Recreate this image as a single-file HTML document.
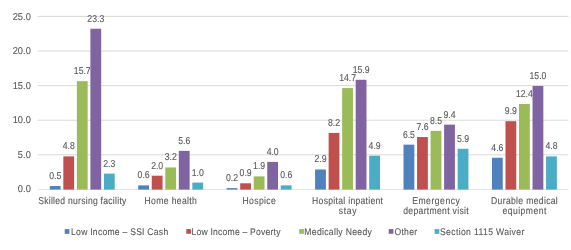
<!DOCTYPE html><html><head><meta charset="utf-8"><style>html,body{margin:0;padding:0;background:#fff;width:571px;height:250px;overflow:hidden}svg{display:block;will-change:transform}text{font-family:"Liberation Sans",sans-serif;text-rendering:geometricPrecision;fill:#595959;stroke:#595959;stroke-width:1.2px}</style></head><body>
<svg width="571" height="250" viewBox="0 0 571 250">
<rect x="37.68" y="188.90" width="530.82" height="1" fill="#E4E4E4"/>
<text transform="translate(30.80,192.20) scale(0.09300,0.10000)" font-size="100" text-anchor="end">0.0</text>
<rect x="37.68" y="154.30" width="530.82" height="1" fill="#D9D9D9"/>
<text transform="translate(30.80,158.00) scale(0.09300,0.10000)" font-size="100" text-anchor="end">5.0</text>
<rect x="37.68" y="119.70" width="530.82" height="1" fill="#D9D9D9"/>
<text transform="translate(30.80,123.10) scale(0.09300,0.10000)" font-size="100" text-anchor="end">10.0</text>
<rect x="37.68" y="85.10" width="530.82" height="1" fill="#D9D9D9"/>
<text transform="translate(30.80,88.80) scale(0.09300,0.10000)" font-size="100" text-anchor="end">15.0</text>
<rect x="37.68" y="50.50" width="530.82" height="1" fill="#D9D9D9"/>
<text transform="translate(30.80,54.20) scale(0.09300,0.10000)" font-size="100" text-anchor="end">20.0</text>
<rect x="37.68" y="15.90" width="530.82" height="1" fill="#D9D9D9"/>
<text transform="translate(30.80,19.60) scale(0.09300,0.10000)" font-size="100" text-anchor="end">25.0</text>
<rect x="49.80" y="186.05" width="10.80" height="3.55" fill="#4F81BD"/>
<text transform="translate(55.20,179.05) scale(0.08649,0.10000)" font-size="100" text-anchor="middle">0.5</text>
<rect x="63.33" y="156.38" width="10.80" height="33.22" fill="#C0504D"/>
<text transform="translate(68.73,149.38) scale(0.08649,0.10000)" font-size="100" text-anchor="middle">4.8</text>
<rect x="76.86" y="81.17" width="10.80" height="108.43" fill="#9BBB59"/>
<text transform="translate(82.26,74.17) scale(0.08649,0.10000)" font-size="100" text-anchor="middle">15.7</text>
<rect x="90.39" y="28.73" width="10.80" height="160.87" fill="#8064A2"/>
<text transform="translate(95.79,21.73) scale(0.08649,0.10000)" font-size="100" text-anchor="middle">23.3</text>
<rect x="103.92" y="173.63" width="10.80" height="15.97" fill="#4BACC6"/>
<text transform="translate(109.32,166.63) scale(0.08649,0.10000)" font-size="100" text-anchor="middle">2.3</text>
<rect x="138.23" y="185.36" width="10.80" height="4.24" fill="#4F81BD"/>
<text transform="translate(143.63,178.36) scale(0.08649,0.10000)" font-size="100" text-anchor="middle">0.6</text>
<rect x="151.76" y="175.70" width="10.80" height="13.90" fill="#C0504D"/>
<text transform="translate(157.16,168.70) scale(0.08649,0.10000)" font-size="100" text-anchor="middle">2.0</text>
<rect x="165.29" y="167.42" width="10.80" height="22.18" fill="#9BBB59"/>
<text transform="translate(170.69,160.42) scale(0.08649,0.10000)" font-size="100" text-anchor="middle">3.2</text>
<rect x="178.82" y="150.86" width="10.80" height="38.74" fill="#8064A2"/>
<text transform="translate(184.22,143.86) scale(0.08649,0.10000)" font-size="100" text-anchor="middle">5.6</text>
<rect x="192.35" y="182.60" width="10.80" height="7.00" fill="#4BACC6"/>
<text transform="translate(197.75,175.60) scale(0.08649,0.10000)" font-size="100" text-anchor="middle">1.0</text>
<rect x="226.66" y="188.12" width="10.80" height="1.48" fill="#4F81BD"/>
<text transform="translate(232.06,181.12) scale(0.08649,0.10000)" font-size="100" text-anchor="middle">0.2</text>
<rect x="240.19" y="183.29" width="10.80" height="6.31" fill="#C0504D"/>
<text transform="translate(245.59,176.29) scale(0.08649,0.10000)" font-size="100" text-anchor="middle">0.9</text>
<rect x="253.72" y="176.39" width="10.80" height="13.21" fill="#9BBB59"/>
<text transform="translate(259.12,169.39) scale(0.08649,0.10000)" font-size="100" text-anchor="middle">1.9</text>
<rect x="267.25" y="161.90" width="10.80" height="27.70" fill="#8064A2"/>
<text transform="translate(272.65,154.90) scale(0.08649,0.10000)" font-size="100" text-anchor="middle">4.0</text>
<rect x="280.78" y="185.36" width="10.80" height="4.24" fill="#4BACC6"/>
<text transform="translate(286.18,178.36) scale(0.08649,0.10000)" font-size="100" text-anchor="middle">0.6</text>
<rect x="315.09" y="169.49" width="10.80" height="20.11" fill="#4F81BD"/>
<text transform="translate(320.49,162.49) scale(0.08649,0.10000)" font-size="100" text-anchor="middle">2.9</text>
<rect x="328.62" y="132.92" width="10.80" height="56.68" fill="#C0504D"/>
<text transform="translate(334.02,125.92) scale(0.08649,0.10000)" font-size="100" text-anchor="middle">8.2</text>
<rect x="342.15" y="88.07" width="10.80" height="101.53" fill="#9BBB59"/>
<text transform="translate(347.55,81.07) scale(0.08649,0.10000)" font-size="100" text-anchor="middle">14.7</text>
<rect x="355.68" y="79.79" width="10.80" height="109.81" fill="#8064A2"/>
<text transform="translate(361.08,72.79) scale(0.08649,0.10000)" font-size="100" text-anchor="middle">15.9</text>
<rect x="369.21" y="155.69" width="10.80" height="33.91" fill="#4BACC6"/>
<text transform="translate(374.61,148.69) scale(0.08649,0.10000)" font-size="100" text-anchor="middle">4.9</text>
<rect x="403.52" y="144.65" width="10.80" height="44.95" fill="#4F81BD"/>
<text transform="translate(408.92,137.65) scale(0.08649,0.10000)" font-size="100" text-anchor="middle">6.5</text>
<rect x="417.05" y="137.06" width="10.80" height="52.54" fill="#C0504D"/>
<text transform="translate(422.45,130.06) scale(0.08649,0.10000)" font-size="100" text-anchor="middle">7.6</text>
<rect x="430.58" y="130.85" width="10.80" height="58.75" fill="#9BBB59"/>
<text transform="translate(435.98,123.85) scale(0.08649,0.10000)" font-size="100" text-anchor="middle">8.5</text>
<rect x="444.11" y="124.64" width="10.80" height="64.96" fill="#8064A2"/>
<text transform="translate(449.51,117.64) scale(0.08649,0.10000)" font-size="100" text-anchor="middle">9.4</text>
<rect x="457.64" y="148.79" width="10.80" height="40.81" fill="#4BACC6"/>
<text transform="translate(463.04,141.79) scale(0.08649,0.10000)" font-size="100" text-anchor="middle">5.9</text>
<rect x="491.95" y="157.76" width="10.80" height="31.84" fill="#4F81BD"/>
<text transform="translate(497.35,150.76) scale(0.08649,0.10000)" font-size="100" text-anchor="middle">4.6</text>
<rect x="505.48" y="121.19" width="10.80" height="68.41" fill="#C0504D"/>
<text transform="translate(510.88,114.19) scale(0.08649,0.10000)" font-size="100" text-anchor="middle">9.9</text>
<rect x="519.01" y="103.94" width="10.80" height="85.66" fill="#9BBB59"/>
<text transform="translate(524.41,96.94) scale(0.08649,0.10000)" font-size="100" text-anchor="middle">12.4</text>
<rect x="532.54" y="86.00" width="10.80" height="103.60" fill="#8064A2"/>
<text transform="translate(537.94,79.00) scale(0.08649,0.10000)" font-size="100" text-anchor="middle">15.0</text>
<rect x="546.07" y="156.38" width="10.80" height="33.22" fill="#4BACC6"/>
<text transform="translate(551.47,149.38) scale(0.08649,0.10000)" font-size="100" text-anchor="middle">4.8</text>
<text transform="translate(82.26,203.70) scale(0.08556,0.10000)" font-size="100" text-anchor="middle" textLength="1029.69" lengthAdjust="spacing">Skilled nursing facility</text>
<text transform="translate(170.69,203.70) scale(0.08556,0.10000)" font-size="100" text-anchor="middle" textLength="611.27" lengthAdjust="spacing">Home health</text>
<text transform="translate(259.12,203.70) scale(0.08556,0.10000)" font-size="100" text-anchor="middle" textLength="388.03" lengthAdjust="spacing">Hospice</text>
<text transform="translate(347.55,203.70) scale(0.08556,0.10000)" font-size="100" text-anchor="middle" textLength="828.66" lengthAdjust="spacing">Hospital inpatient</text>
<text transform="translate(347.55,214.30) scale(0.08556,0.10000)" font-size="100" text-anchor="middle" textLength="208.04" lengthAdjust="spacing">stay</text>
<text transform="translate(435.98,203.70) scale(0.08556,0.10000)" font-size="100" text-anchor="middle" textLength="556.33" lengthAdjust="spacing">Emergency</text>
<text transform="translate(435.98,214.30) scale(0.08556,0.10000)" font-size="100" text-anchor="middle" textLength="764.38" lengthAdjust="spacing">department visit</text>
<text transform="translate(524.41,203.70) scale(0.08556,0.10000)" font-size="100" text-anchor="middle" textLength="779.57" lengthAdjust="spacing">Durable medical</text>
<text transform="translate(524.41,214.30) scale(0.08556,0.10000)" font-size="100" text-anchor="middle" textLength="511.92" lengthAdjust="spacing">equipment</text>
<rect x="64.70" y="229.1" width="4.7" height="4.7" fill="#4F81BD"/>
<text transform="translate(71.10,234.7) scale(0.08640,0.09600)" font-size="100" textLength="1123.84" lengthAdjust="spacing">Low Income – SSI Cash</text>
<rect x="186.30" y="229.1" width="4.7" height="4.7" fill="#C0504D"/>
<text transform="translate(191.50,234.7) scale(0.08640,0.09600)" font-size="100" textLength="1030.09" lengthAdjust="spacing">Low Income – Poverty</text>
<rect x="299.20" y="229.1" width="4.7" height="4.7" fill="#9BBB59"/>
<text transform="translate(304.30,234.7) scale(0.08640,0.09600)" font-size="100" textLength="781.25" lengthAdjust="spacing">Medically Needy</text>
<rect x="388.70" y="229.1" width="4.7" height="4.7" fill="#8064A2"/>
<text transform="translate(394.40,234.7) scale(0.08640,0.09600)" font-size="100" textLength="263.89" lengthAdjust="spacing">Other</text>
<rect x="434.60" y="229.1" width="4.7" height="4.7" fill="#4BACC6"/>
<text transform="translate(440.00,234.7) scale(0.08640,0.09600)" font-size="100" textLength="975.69" lengthAdjust="spacing">Section 1115 Waiver</text>
</svg></body></html>
